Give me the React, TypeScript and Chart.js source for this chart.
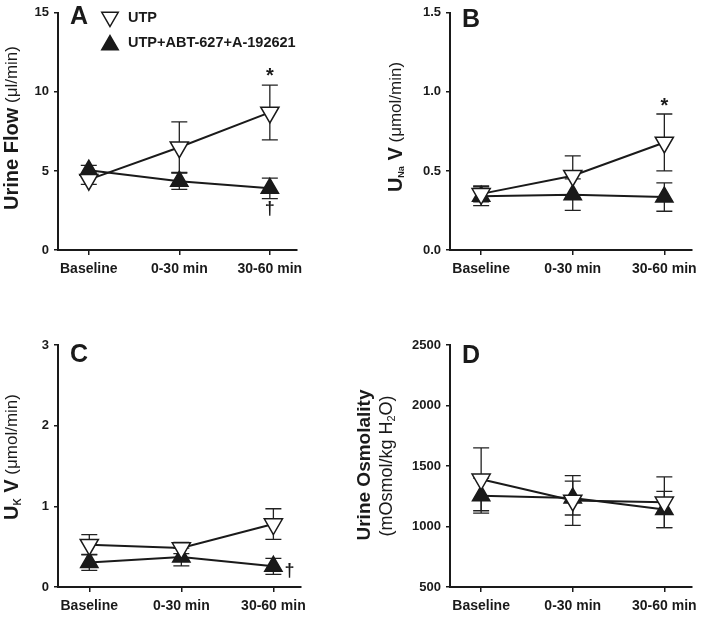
import React, { useEffect, useRef } from "react";
import { Chart, registerables } from "chart.js";

Chart.register(...registerables);

// ---------- data ----------
const categories = ["Baseline", "0-30 min", "30-60 min"];

const flowUTP = [4.45, 6.5, 8.7];
const flowUTPErr = [0.3, 1.6, 1.73];
const flowABT = [5.05, 4.35, 3.9];
const flowABTErr = [0.3, 0.52, 0.65];
const flowTicks = [0, 5, 10, 15];

const naUTP = [0.355, 0.47, 0.68];
const naUTPErr = [0.05, 0.125, 0.18];
const naABT = [0.34, 0.35, 0.335];
const naABTErr = [0.06, 0.1, 0.09];
const naTicks = [0, 0.5, 1.0, 1.5];

const kUTP = [0.524, 0.483, 0.78];
const kUTPErr = [0.125, 0.07, 0.19];
const kABT = [0.305, 0.371, 0.256];
const kABTErr = [0.1, 0.11, 0.1];
const kTicks = [0, 1, 2, 3];

const osmUTP = [1390, 1215, 1200];
const osmUTPErr = [260, 205, 210];
const osmABT = [1255, 1235, 1140];
const osmABTErr = [145, 140, 150];
const osmTicks = [500, 1000, 1500, 2000, 2500];

const seriesNames = ["UTP", "UTP+ABT-627+A-192621"];

// annotations: [text, category index, value]
const flowMarks: [string, number, number][] = [["*", 2, 11.2], ["†", 2, 2.6]];
const naMarks: [string, number, number][] = [["*", 2, 0.93]];
const kMarks: [string, number, number][] = [["†", 2, 0.2]];
const osmMarks: [string, number, number][] = [];

// ---------- styling ----------
const FF = '"Liberation Sans", Arial, Helvetica, sans-serif';
const INK = "#1a1a1a";

type Run = { t: string; font: string; dy?: number };
type TitleLine = { runs: Run[]; cx: number; cy: number };

interface PanelCfg {
  left: number; top: number; width: number; height: number;
  yAxisW: number; padTop: number; padRight: number; xAxisH: number;
  yTicks: number[]; decimals: number;
  utp: number[]; utpErr: number[]; abt: number[]; abtErr: number[];
  marks: [string, number, number][]; markDx: number[];
  letter: string; letterX: number; letterY: number;
  titles: TitleLine[];
  legend: boolean;
}

const B = (s: number) => `bold ${s}px ${FF}`;
const N = (s: number) => `${s}px ${FF}`;

function drawRuns(ctx: CanvasRenderingContext2D, line: TitleLine) {
  ctx.save();
  ctx.translate(line.cx, line.cy);
  ctx.rotate(-Math.PI / 2);
  let total = 0;
  for (const r of line.runs) { ctx.font = r.font; total += ctx.measureText(r.t).width; }
  let x = -total / 2;
  ctx.fillStyle = INK;
  ctx.textBaseline = "middle";
  ctx.textAlign = "left";
  for (const r of line.runs) {
    ctx.font = r.font;
    ctx.fillText(r.t, x, r.dy || 0);
    x += ctx.measureText(r.t).width;
  }
  ctx.restore();
}

function tri(ctx: CanvasRenderingContext2D, x: number, y: number, r: number, down: boolean, fill: string) {
  ctx.beginPath();
  for (let k = 0; k < 3; k++) {
    const a = (down ? Math.PI : 0) + k * (2 * Math.PI / 3);
    const px = x + Math.sin(a) * r, py = y - Math.cos(a) * r;
    if (k === 0) ctx.moveTo(px, py); else ctx.lineTo(px, py);
  }
  ctx.closePath();
  ctx.fillStyle = fill;
  ctx.fill();
  ctx.lineWidth = 1.5;
  ctx.strokeStyle = INK;
  ctx.stroke();
}

function Panel({ cfg }: { cfg: PanelCfg }) {
  const ref = useRef<HTMLCanvasElement>(null);
  useEffect(() => {
    if (!ref.current) return;
    const errs = [cfg.utpErr, cfg.abtErr];
    const extras = {
      id: "extras",
      beforeDatasetsDraw(chart: any) {
        const ctx = chart.ctx;
        const xs = chart.scales.x, ys = chart.scales.y;
        ctx.save();
        ctx.strokeStyle = "#222";
        ctx.lineWidth = 1.3;
        chart.data.datasets.forEach((ds: any, di: number) => {
          ds.data.forEach((p: any, i: number) => {
            const e = errs[di][i];
            const x = xs.getPixelForValue(p.x);
            const y1 = ys.getPixelForValue(p.y + e);
            const y2 = ys.getPixelForValue(p.y - e);
            ctx.beginPath();
            ctx.moveTo(x, y1); ctx.lineTo(x, y2);
            ctx.moveTo(x - 8, y1); ctx.lineTo(x + 8, y1);
            ctx.moveTo(x - 8, y2); ctx.lineTo(x + 8, y2);
            ctx.stroke();
          });
        });
        ctx.restore();
      },
      afterDraw(chart: any) {
        const ctx = chart.ctx;
        const xs = chart.scales.x, ys = chart.scales.y;
        ctx.save();
        for (const t of cfg.titles) drawRuns(ctx, t);
        ctx.fillStyle = INK;
        ctx.textAlign = "center";
        ctx.textBaseline = "middle";
        ctx.font = B(25);
        ctx.fillText(cfg.letter, cfg.letterX, cfg.letterY);
        cfg.marks.forEach(([txt, ci, v], k) => {
          ctx.font = txt === "*" ? B(20) : B(18);
          const dyAdj = txt === "*" ? 4 : 0;
          ctx.fillText(txt, xs.getPixelForValue(ci) + (cfg.markDx[k] || 0), ys.getPixelForValue(v) + dyAdj);
        });
        if (cfg.legend) {
          tri(ctx, 110, 17, 9.5, true, "#ffffff");
          tri(ctx, 110, 45, 9.5, false, INK);
          ctx.fillStyle = INK;
          ctx.textAlign = "left";
          ctx.font = B(14.5);
          ctx.fillText(seriesNames[0], 128, 18);
          ctx.fillText(seriesNames[1], 128, 43);
        }
        ctx.restore();
      },
    };
    const chart = new Chart(ref.current, {
      type: "line",
      data: {
        datasets: [
          {
            label: seriesNames[0],
            data: cfg.utp.map((v, i) => ({ x: i, y: v })),
            borderColor: INK, borderWidth: 2,
            pointStyle: "triangle", pointRotation: 180, pointRadius: 10.5,
            pointBackgroundColor: "#ffffff", pointBorderColor: INK, pointBorderWidth: 1.5,
          },
          {
            label: seriesNames[1],
            data: cfg.abt.map((v, i) => ({ x: i, y: v })),
            borderColor: INK, borderWidth: 2,
            pointStyle: "triangle", pointRotation: 0, pointRadius: 10,
            pointBackgroundColor: INK, pointBorderColor: INK, pointBorderWidth: 1.5,
          },
        ],
      } as any,
      options: {
        animation: false,
        responsive: false,
        clip: false as any,
        layout: { padding: { top: cfg.padTop, right: cfg.padRight, left: 0, bottom: 0 } },
        plugins: { legend: { display: false }, tooltip: { enabled: false } },
        scales: {
          x: {
            type: "linear", min: -0.34, max: 2.3,
            afterBuildTicks: (s: any) => { s.ticks = categories.map((_, i) => ({ value: i })); },
            afterFit: (s: any) => { s.height = cfg.xAxisH; },
            ticks: {
              callback: (v: any) => categories[v] ?? "",
              font: { family: FF, size: 14, weight: "bold" }, color: INK, padding: 6,
              maxRotation: 0, autoSkip: false,
            },
            grid: { drawOnChartArea: false, color: INK, tickLength: 5, lineWidth: 1.5 },
            border: { color: INK, width: 2 },
          },
          y: {
            type: "linear", min: cfg.yTicks[0], max: cfg.yTicks[cfg.yTicks.length - 1],
            afterBuildTicks: (s: any) => { s.ticks = cfg.yTicks.map((v) => ({ value: v })); },
            afterFit: (s: any) => { s.width = cfg.yAxisW; },
            ticks: {
              callback: (v: any) => Number(v).toFixed(cfg.decimals),
              font: { family: FF, size: 13, weight: "bold" }, color: INK, padding: 5,
            },
            grid: { drawOnChartArea: false, color: INK, tickLength: 4, lineWidth: 1.5 },
            border: { color: INK, width: 2 },
          },
        },
      } as any,
      plugins: [extras],
    });
    return () => chart.destroy();
  }, [cfg]);
  return (
    <canvas
      ref={ref}
      width={cfg.width}
      height={cfg.height}
      style={{ position: "absolute", left: cfg.left, top: cfg.top, width: cfg.width, height: cfg.height }}
    />
  );
}

const panels: PanelCfg[] = [
  {
    left: 0, top: 0, width: 352, height: 300, yAxisW: 58, padTop: 8, padRight: 55, xAxisH: 50,
    yTicks: flowTicks, decimals: 0, utp: flowUTP, utpErr: flowUTPErr, abt: flowABT, abtErr: flowABTErr,
    marks: flowMarks, markDx: [0, 0], letter: "A", letterX: 79, letterY: 17,
    titles: [{ runs: [{ t: "Urine Flow", font: B(20) }, { t: " (μl/min)", font: N(17) }], cx: 12, cy: 128 }],
    legend: true,
  },
  {
    left: 352, top: 0, width: 352, height: 300, yAxisW: 98, padTop: 8, padRight: 12, xAxisH: 50,
    yTicks: naTicks, decimals: 1, utp: naUTP, utpErr: naUTPErr, abt: naABT, abtErr: naABTErr,
    marks: naMarks, markDx: [0], letter: "B", letterX: 119, letterY: 20,
    titles: [{ runs: [{ t: "U", font: B(20) }, { t: "Na", font: B(9), dy: 6 }, { t: " V", font: B(20) }, { t: " (μmol/min)", font: N(17) }], cx: 44, cy: 127 }],
    legend: false,
  },
  {
    left: 0, top: 300, width: 352, height: 317, yAxisW: 58, padTop: 45, padRight: 51, xAxisH: 30,
    yTicks: kTicks, decimals: 0, utp: kUTP, utpErr: kUTPErr, abt: kABT, abtErr: kABTErr,
    marks: kMarks, markDx: [16], letter: "C", letterX: 79, letterY: 55,
    titles: [{ runs: [{ t: "U", font: B(20) }, { t: "K", font: B(10), dy: 6 }, { t: " V", font: B(20) }, { t: " (μmol/min)", font: N(17) }], cx: 12, cy: 157 }],
    legend: false,
  },
  {
    left: 352, top: 300, width: 352, height: 317, yAxisW: 98, padTop: 45, padRight: 12, xAxisH: 30,
    yTicks: osmTicks, decimals: 0, utp: osmUTP, utpErr: osmUTPErr, abt: osmABT, abtErr: osmABTErr,
    marks: osmMarks, markDx: [], letter: "D", letterX: 119, letterY: 56,
    titles: [
      { runs: [{ t: "Urine Osmolality", font: B(19) }], cx: 13, cy: 165 },
      { runs: [{ t: "(mOsmol/kg H", font: N(18) }, { t: "2", font: N(11), dy: 5 }, { t: "O)", font: N(18) }], cx: 35, cy: 166 },
    ],
    legend: false,
  },
];

export default function App() {
  return (
    <div style={{ position: "fixed", left: 0, top: 0, width: 704, height: 617, background: "#ffffff" }}>
      {panels.map((p, i) => (
        <Panel key={i} cfg={p} />
      ))}
    </div>
  );
}
